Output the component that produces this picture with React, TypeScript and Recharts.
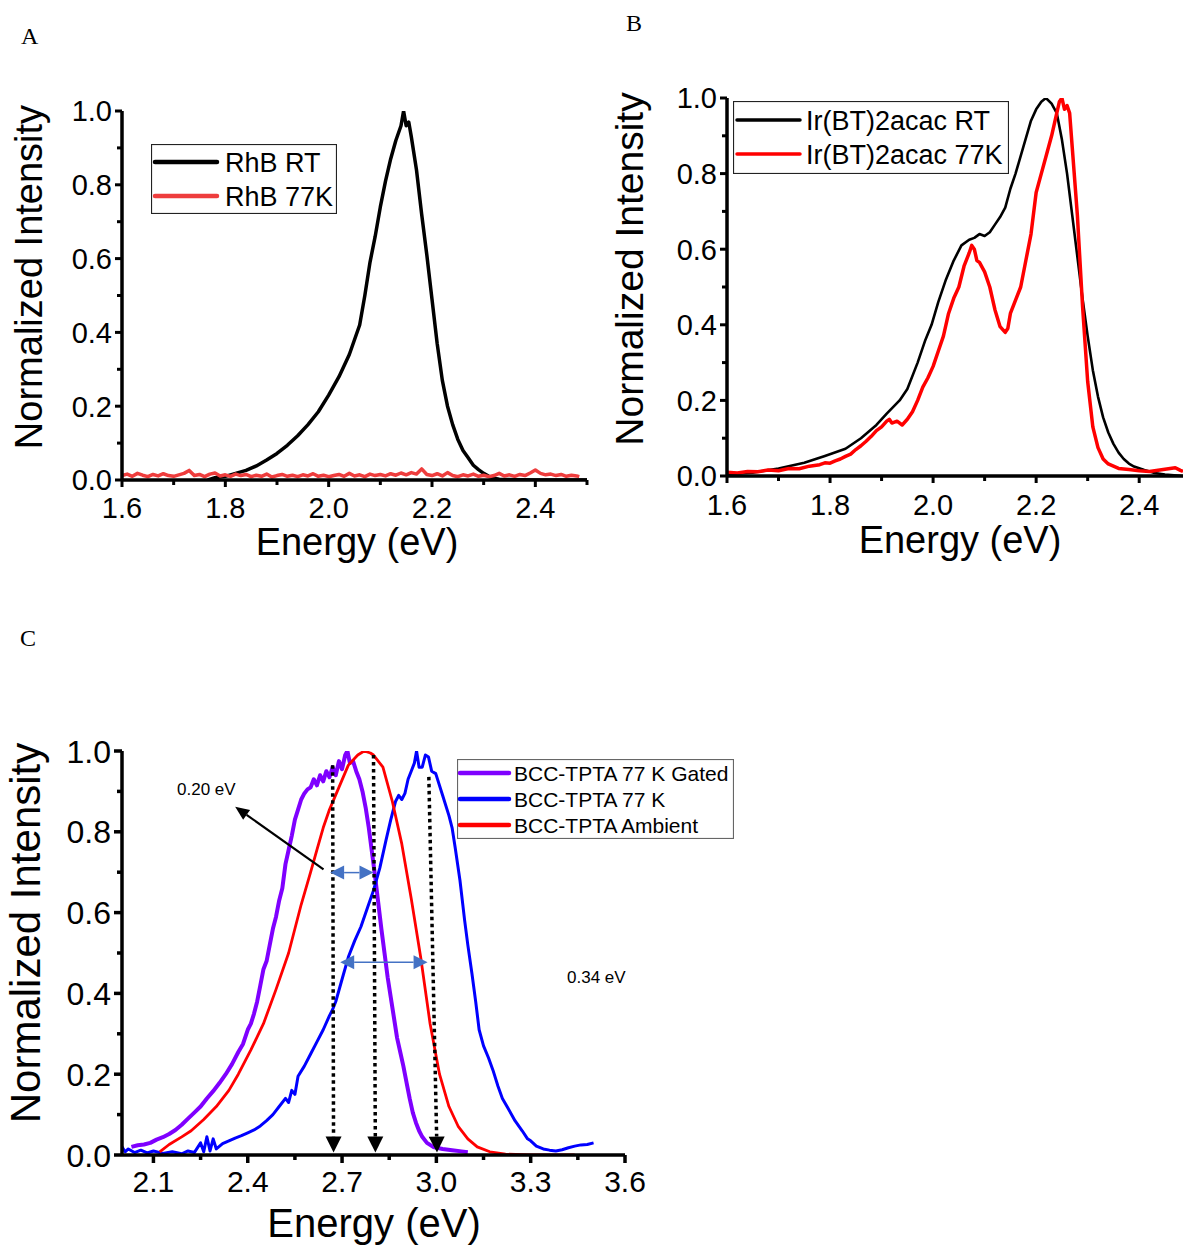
import React from 'react';
import { LineChart, Line, XAxis, YAxis, ReferenceLine, Legend } from 'recharts';

const FONT = '"Liberation Sans", Arial, Helvetica, sans-serif';
const SERIF = '"Liberation Serif", "Times New Roman", serif';

// ---------- Panel A data ----------
const A_X_MAJOR = [1.6, 1.8, 2.0, 2.2, 2.4];
const A_X_MINOR = [1.7, 1.9, 2.1, 2.3, 2.5];
const Y_MAJOR = [0, 0.2, 0.4, 0.6, 0.8, 1.0];
const Y_MINOR = [0.1, 0.3, 0.5, 0.7, 0.9];

const RHB_RT: number[][] = [
  [1.766, 0.0], [1.78, 0.006], [1.8, 0.01], [1.82, 0.018], [1.84, 0.026], [1.86, 0.038], [1.88, 0.054],
  [1.9, 0.072], [1.92, 0.094], [1.94, 0.12], [1.96, 0.15], [1.98, 0.185], [2.0, 0.23], [2.02, 0.28],
  [2.04, 0.34], [2.06, 0.42], [2.07, 0.5], [2.08, 0.59], [2.09, 0.66], [2.1, 0.74], [2.11, 0.81],
  [2.12, 0.87], [2.13, 0.92], [2.14, 0.96], [2.145, 1.0], [2.15, 0.96], [2.155, 0.97], [2.16, 0.93],
  [2.17, 0.84], [2.18, 0.72], [2.19, 0.61], [2.2, 0.49], [2.21, 0.37], [2.22, 0.27], [2.23, 0.2],
  [2.24, 0.15], [2.25, 0.11], [2.26, 0.08], [2.27, 0.06], [2.28, 0.04], [2.29, 0.028], [2.3, 0.018],
  [2.31, 0.01], [2.32, 0.005], [2.33, 0.002], [2.4, 0.0], [2.45, 0.0], [2.5, 0.0],
];

const RHB_77K: number[][] = [
  [1.6, 0.012], [1.61, 0.016], [1.62, 0.01], [1.63, 0.018], [1.64, 0.013], [1.65, 0.009], [1.66, 0.015],
  [1.67, 0.011], [1.68, 0.017], [1.69, 0.012], [1.7, 0.01], [1.71, 0.014], [1.72, 0.018], [1.73, 0.026],
  [1.74, 0.012], [1.75, 0.015], [1.76, 0.009], [1.77, 0.016], [1.78, 0.019], [1.79, 0.011], [1.8, 0.014],
  [1.81, 0.01], [1.82, 0.016], [1.83, 0.012], [1.84, 0.015], [1.85, 0.009], [1.86, 0.013], [1.87, 0.01],
  [1.88, 0.016], [1.89, 0.008], [1.9, 0.012], [1.91, 0.015], [1.92, 0.01], [1.93, 0.013], [1.94, 0.009],
  [1.95, 0.014], [1.96, 0.011], [1.97, 0.017], [1.98, 0.01], [1.99, 0.013], [2.0, 0.009], [2.01, 0.012],
  [2.02, 0.015], [2.03, 0.01], [2.04, 0.018], [2.05, 0.011], [2.06, 0.014], [2.07, 0.009], [2.08, 0.016],
  [2.09, 0.012], [2.1, 0.015], [2.11, 0.011], [2.12, 0.017], [2.13, 0.013], [2.14, 0.019], [2.15, 0.014],
  [2.16, 0.02], [2.17, 0.016], [2.18, 0.03], [2.19, 0.015], [2.2, 0.012], [2.21, 0.017], [2.22, 0.011],
  [2.23, 0.02], [2.24, 0.012], [2.25, 0.009], [2.26, 0.014], [2.27, 0.011], [2.28, 0.016], [2.29, 0.01],
  [2.3, 0.013], [2.31, 0.009], [2.32, 0.012], [2.33, 0.018], [2.34, 0.011], [2.35, 0.014], [2.36, 0.01],
  [2.37, 0.015], [2.38, 0.012], [2.39, 0.019], [2.4, 0.027], [2.41, 0.018], [2.42, 0.014], [2.43, 0.016],
  [2.44, 0.012], [2.45, 0.015], [2.46, 0.01], [2.47, 0.013], [2.48, 0.011], [2.485, 0.009],
];

// ---------- Panel B data ----------
const B_X_MAJOR = [1.6, 1.8, 2.0, 2.2, 2.4];
const B_X_MINOR = [1.7, 1.9, 2.1, 2.3];

const IR_RT: number[][] = [
  [1.6, 0.005], [1.65, 0.009], [1.7, 0.02], [1.75, 0.035], [1.79, 0.053], [1.83, 0.072], [1.86, 0.1],
  [1.89, 0.135], [1.91, 0.165], [1.935, 0.2], [1.95, 0.23], [1.97, 0.3], [1.985, 0.36], [1.997, 0.4],
  [2.01, 0.46], [2.025, 0.52], [2.04, 0.57], [2.055, 0.61], [2.07, 0.625], [2.08, 0.63], [2.09, 0.64],
  [2.1, 0.635], [2.11, 0.645], [2.12, 0.665], [2.13, 0.685], [2.14, 0.71], [2.15, 0.76], [2.16, 0.8],
  [2.175, 0.87], [2.19, 0.94], [2.2, 0.97], [2.21, 0.99], [2.219, 1.0], [2.23, 0.985], [2.24, 0.96],
  [2.25, 0.89], [2.26, 0.8], [2.27, 0.69], [2.28, 0.58], [2.29, 0.47], [2.3, 0.37], [2.31, 0.28],
  [2.32, 0.21], [2.33, 0.155], [2.34, 0.115], [2.35, 0.085], [2.36, 0.062], [2.37, 0.045], [2.38, 0.033],
  [2.39, 0.025], [2.41, 0.016], [2.43, 0.008], [2.45, 0.004], [2.485, 0.0],
];

const IR_77K: number[][] = [
  [1.6, 0.01], [1.62, 0.008], [1.64, 0.012], [1.66, 0.011], [1.68, 0.016], [1.7, 0.014], [1.72, 0.02],
  [1.74, 0.019], [1.76, 0.026], [1.78, 0.03], [1.79, 0.035], [1.8, 0.034], [1.81, 0.04], [1.82, 0.045],
  [1.83, 0.052], [1.84, 0.058], [1.85, 0.07], [1.86, 0.08], [1.87, 0.092], [1.88, 0.105], [1.89, 0.12],
  [1.9, 0.13], [1.91, 0.145], [1.915, 0.15], [1.92, 0.14], [1.93, 0.145], [1.94, 0.135], [1.95, 0.15],
  [1.96, 0.17], [1.97, 0.2], [1.98, 0.235], [1.99, 0.26], [2.0, 0.29], [2.01, 0.33], [2.02, 0.37],
  [2.03, 0.43], [2.04, 0.47], [2.05, 0.5], [2.06, 0.555], [2.07, 0.59], [2.075, 0.61], [2.08, 0.6],
  [2.085, 0.57], [2.09, 0.565], [2.1, 0.54], [2.11, 0.5], [2.12, 0.44], [2.13, 0.395], [2.14, 0.38],
  [2.145, 0.39], [2.15, 0.43], [2.16, 0.465], [2.17, 0.5], [2.18, 0.57], [2.19, 0.64], [2.2, 0.75],
  [2.21, 0.8], [2.22, 0.85], [2.23, 0.9], [2.24, 0.96], [2.245, 0.99], [2.25, 1.0], [2.255, 0.97],
  [2.26, 0.98], [2.265, 0.96], [2.27, 0.87], [2.28, 0.69], [2.29, 0.45], [2.3, 0.25], [2.31, 0.13],
  [2.32, 0.075], [2.33, 0.045], [2.34, 0.032], [2.35, 0.026], [2.36, 0.02], [2.38, 0.017], [2.4, 0.014],
  [2.42, 0.012], [2.44, 0.016], [2.46, 0.02], [2.47, 0.022], [2.48, 0.015], [2.485, 0.012],
];

// ---------- Panel C data ----------
const C_X_MAJOR = [2.1, 2.4, 2.7, 3.0, 3.3, 3.6];
const C_X_MINOR = [2.25, 2.55, 2.85, 3.15, 3.45];

const BCC_GATED: number[][] = [
  [2.03, 0.02], [2.05, 0.024], [2.07, 0.026], [2.09, 0.03], [2.11, 0.038], [2.13, 0.044], [2.15, 0.052],
  [2.17, 0.062], [2.19, 0.075], [2.21, 0.09], [2.23, 0.105], [2.25, 0.12], [2.27, 0.14], [2.29, 0.158],
  [2.31, 0.178], [2.33, 0.2], [2.35, 0.225], [2.37, 0.255], [2.385, 0.275], [2.4, 0.31], [2.41, 0.325],
  [2.42, 0.35], [2.43, 0.38], [2.44, 0.42], [2.45, 0.46], [2.46, 0.48], [2.47, 0.52], [2.48, 0.56],
  [2.49, 0.59], [2.5, 0.63], [2.51, 0.66], [2.52, 0.72], [2.53, 0.755], [2.54, 0.79], [2.55, 0.83],
  [2.56, 0.855], [2.57, 0.88], [2.58, 0.895], [2.59, 0.905], [2.6, 0.91], [2.61, 0.93], [2.62, 0.915],
  [2.63, 0.94], [2.64, 0.925], [2.65, 0.95], [2.66, 0.935], [2.67, 0.96], [2.68, 0.94], [2.69, 0.975],
  [2.7, 0.955], [2.71, 0.99], [2.717, 1.0], [2.725, 0.97], [2.735, 0.975], [2.745, 0.95], [2.755, 0.93],
  [2.765, 0.9], [2.775, 0.86], [2.785, 0.81], [2.795, 0.75], [2.805, 0.69], [2.815, 0.625], [2.825, 0.56],
  [2.835, 0.5], [2.845, 0.44], [2.855, 0.39], [2.865, 0.34], [2.875, 0.29], [2.885, 0.255], [2.895, 0.22],
  [2.905, 0.18], [2.915, 0.14], [2.925, 0.105], [2.935, 0.08], [2.945, 0.06], [2.955, 0.045], [2.97, 0.03],
  [2.99, 0.02], [3.02, 0.015], [3.05, 0.012], [3.08, 0.009], [3.1, 0.007],
];

const BCC_77K: number[][] = [
  [2.0, 0.02], [2.01, 0.008], [2.02, 0.015], [2.04, 0.006], [2.06, 0.012], [2.08, 0.005], [2.1, 0.01],
  [2.13, 0.004], [2.16, 0.008], [2.19, 0.003], [2.21, 0.01], [2.23, 0.006], [2.25, 0.03], [2.26, 0.008],
  [2.27, 0.045], [2.28, 0.01], [2.29, 0.04], [2.3, 0.015], [2.32, 0.028], [2.34, 0.035], [2.36, 0.042],
  [2.38, 0.048], [2.4, 0.055], [2.42, 0.062], [2.44, 0.072], [2.46, 0.085], [2.48, 0.1], [2.5, 0.12],
  [2.52, 0.14], [2.53, 0.13], [2.54, 0.16], [2.55, 0.15], [2.56, 0.195], [2.58, 0.22], [2.6, 0.25],
  [2.62, 0.28], [2.64, 0.31], [2.66, 0.345], [2.67, 0.36], [2.68, 0.38], [2.7, 0.435], [2.72, 0.49],
  [2.74, 0.53], [2.76, 0.565], [2.78, 0.61], [2.8, 0.655], [2.82, 0.71], [2.84, 0.78], [2.855, 0.83],
  [2.87, 0.875], [2.88, 0.89], [2.89, 0.88], [2.9, 0.895], [2.91, 0.93], [2.92, 0.95], [2.93, 0.97],
  [2.937, 1.0], [2.945, 0.96], [2.955, 0.96], [2.965, 0.99], [2.975, 0.985], [2.985, 0.95], [2.998, 0.944],
  [3.02, 0.89], [3.04, 0.84], [3.05, 0.81], [3.06, 0.76], [3.075, 0.68], [3.09, 0.58], [3.1, 0.52],
  [3.113, 0.45], [3.125, 0.38], [3.136, 0.31], [3.15, 0.27], [3.166, 0.24], [3.18, 0.21], [3.196, 0.17],
  [3.21, 0.14], [3.227, 0.117], [3.25, 0.085], [3.273, 0.06], [3.29, 0.04], [3.3, 0.035], [3.318, 0.022],
  [3.34, 0.015], [3.36, 0.012], [3.38, 0.01], [3.4, 0.013], [3.42, 0.018], [3.44, 0.022], [3.46, 0.025],
  [3.48, 0.026], [3.5, 0.03],
];

const BCC_AMBIENT: number[][] = [
  [2.12, 0.008], [2.15, 0.026], [2.19, 0.045], [2.22, 0.06], [2.26, 0.088], [2.3, 0.12], [2.34, 0.16],
  [2.37, 0.2], [2.41, 0.26], [2.45, 0.325], [2.49, 0.41], [2.53, 0.5], [2.55, 0.56], [2.57, 0.62],
  [2.6, 0.7], [2.62, 0.755], [2.64, 0.81], [2.66, 0.855], [2.69, 0.91], [2.72, 0.965], [2.75, 0.99],
  [2.77, 1.0], [2.79, 0.995], [2.8, 0.99], [2.83, 0.96], [2.86, 0.875], [2.89, 0.77], [2.92, 0.635],
  [2.95, 0.49], [2.98, 0.325], [3.01, 0.2], [3.04, 0.12], [3.07, 0.07], [3.1, 0.04], [3.13, 0.02],
  [3.17, 0.008], [3.22, 0.002], [3.3, 0.0], [3.44, 0.0],
];

// Annotations in panel C: [E1, I1, E2, I2]
const C_DOTTED: number[][] = [
  [2.67, 0.965, 2.673, 0.006],
  [2.8, 0.99, 2.806, 0.006],
  [2.976, 0.936, 3.002, 0.006],
];
const C_DOUBLE: number[][] = [
  [2.662, 0.699, 2.8, 0.699],
  [2.694, 0.477, 2.972, 0.477],
];
const C_POINTER: number[] = [2.641, 0.707, 2.36, 0.862];

const toPts = (arr: number[][]) => arr.map(([e, v]) => ({ e, v }));

const isIn = (list: number[], v: number) => list.some((m) => Math.abs(m - v) < 1e-6);

function makeXTick(major: number[], fontSize: number, labelDy: number, majLen: number, minLen: number, sw: number) {
  return (props: any) => {
    const { x, y, payload } = props;
    const v = payload.value as number;
    const maj = isIn(major, v);
    return (
      <g>
        <line x1={x} y1={y} x2={x} y2={y + (maj ? majLen : minLen)} stroke="#000" strokeWidth={sw} />
        {maj && (
          <text x={x} y={y + labelDy} textAnchor="middle" fontSize={fontSize} fontFamily={FONT} fill="#000">
            {v.toFixed(1)}
          </text>
        )}
      </g>
    );
  };
}

function makeYTick(major: number[], fontSize: number, labelDx: number, majLen: number, minLen: number, sw: number) {
  return (props: any) => {
    const { x, y, payload } = props;
    const v = payload.value as number;
    const maj = isIn(major, v);
    return (
      <g>
        <line x1={x - (maj ? majLen : minLen)} y1={y} x2={x} y2={y} stroke="#000" strokeWidth={sw} />
        {maj && (
          <text x={x - labelDx} y={y} dy="0.36em" textAnchor="end" fontSize={fontSize} fontFamily={FONT} fill="#000">
            {v.toFixed(1)}
          </text>
        )}
      </g>
    );
  };
}

function arrowHead(x: number, y: number, fromX: number, fromY: number, len: number, half: number) {
  const ang = Math.atan2(y - fromY, x - fromX);
  const bx = x - len * Math.cos(ang);
  const by = y - len * Math.sin(ang);
  const px = -Math.sin(ang) * half;
  const py = Math.cos(ang) * half;
  return { bx, by, pts: `${x},${y} ${bx + px},${by + py} ${bx - px},${by - py}` };
}

const DottedArrow = (props: any) => {
  const { x1, y1, x2, y2 } = props;
  const h = arrowHead(x2, y2, x1, y1, 16, 8);
  return (
    <g>
      <line x1={x1} y1={y1} x2={h.bx} y2={h.by} stroke="#000" strokeWidth={3.5} strokeDasharray="3.5 3.5" />
      <polygon points={h.pts} fill="#000" />
    </g>
  );
};

const BlueDoubleArrow = (props: any) => {
  const { x1, y1, x2, y2 } = props;
  const h1 = arrowHead(x1, y1, x2, y2, 14, 7);
  const h2 = arrowHead(x2, y2, x1, y1, 14, 7);
  return (
    <g>
      <line x1={h1.bx} y1={h1.by} x2={h2.bx} y2={h2.by} stroke="#4472c4" strokeWidth={1.5} />
      <polygon points={h1.pts} fill="#4472c4" />
      <polygon points={h2.pts} fill="#4472c4" />
    </g>
  );
};

const BlackPointer = (props: any) => {
  const { x1, y1, x2, y2 } = props;
  const h = arrowHead(x2, y2, x1, y1, 14, 6);
  return (
    <g>
      <line x1={x1} y1={y1} x2={h.bx} y2={h.by} stroke="#000" strokeWidth={2.2} />
      <polygon points={h.pts} fill="#000" />
    </g>
  );
};

type LegendItem = { name: string; color: string };

function LegendBox({ items, width, height, fontSize, lineX1, lineX2, textX, rowYs, border, lineW }: any) {
  return (
    <svg width={width} height={height} style={{ display: 'block' }}>
      <rect x={0.5} y={0.5} width={width - 1} height={height - 1} fill="#fff" stroke={border} strokeWidth={1.2} />
      {(items as LegendItem[]).map((it, i) => (
        <g key={it.name}>
          <line x1={lineX1} y1={rowYs[i]} x2={lineX2} y2={rowYs[i]} stroke={it.color} strokeWidth={lineW} strokeLinecap="round" />
          <text x={textX} y={rowYs[i]} dy="0.36em" fontSize={fontSize} fontFamily={FONT} fill="#000">
            {it.name}
          </text>
        </g>
      ))}
    </svg>
  );
}

const A_SERIES: LegendItem[] = [
  { name: 'RhB RT', color: '#000000' },
  { name: 'RhB 77K', color: '#ee3d3d' },
];
const B_SERIES: LegendItem[] = [
  { name: 'Ir(BT)2acac RT', color: '#000000' },
  { name: 'Ir(BT)2acac 77K', color: '#ff0000' },
];
const C_SERIES: LegendItem[] = [
  { name: 'BCC-TPTA 77 K Gated', color: '#7f00ff' },
  { name: 'BCC-TPTA 77 K', color: '#0000ff' },
  { name: 'BCC-TPTA Ambient', color: '#ff0000' },
];

const axisLine = { stroke: '#000', strokeWidth: 3.5 };

function PanelA() {
  return (
    <LineChart width={600} height={580} margin={{ top: 111, right: 13, bottom: 20, left: 42 }}>
      <XAxis
        type="number"
        dataKey="e"
        domain={[1.6, 2.5]}
        ticks={[...A_X_MAJOR, ...A_X_MINOR].sort((a, b) => a - b)}
        interval={0}
        height={80}
        tickSize={0}
        tickMargin={0}
        axisLine={axisLine}
        tickLine={false}
        tick={makeXTick(A_X_MAJOR, 29, 38, 7, 5, 3)}
        allowDataOverflow
      />
      <YAxis
        type="number"
        domain={[0, 1]}
        ticks={[...Y_MAJOR, ...Y_MINOR].sort((a, b) => a - b)}
        interval={0}
        width={80}
        tickSize={0}
        tickMargin={0}
        axisLine={axisLine}
        tickLine={false}
        tick={makeYTick(Y_MAJOR, 29, 10, 7, 5, 3)}
        allowDataOverflow
      />
      <Line data={toPts(RHB_RT)} dataKey="v" name="RhB RT" stroke="#000" strokeWidth={3.5} dot={false} activeDot={false} isAnimationActive={false} strokeLinejoin="round" />
      <Line data={toPts(RHB_77K)} dataKey="v" name="RhB 77K" stroke="#ee3d3d" strokeWidth={3.5} dot={false} activeDot={false} isAnimationActive={false} strokeLinejoin="round" />
      <Legend
        layout="horizontal"
        verticalAlign="middle"
        align="center"
        wrapperStyle={{ left: 151, top: 144, width: 186, height: 70 }}
        content={() => (
          <LegendBox items={A_SERIES} width={186} height={70} fontSize={27} lineX1={4} lineX2={66} textX={74} rowYs={[18, 52]} border="#222" lineW={4.5} />
        )}
      />
    </LineChart>
  );
}

function PanelB() {
  return (
    <LineChart width={585} height={580} margin={{ top: 98, right: 2, bottom: 24, left: 47 }}>
      <XAxis
        type="number"
        dataKey="e"
        domain={[1.6, 2.485]}
        ticks={[...B_X_MAJOR, ...B_X_MINOR].sort((a, b) => a - b)}
        interval={0}
        height={80}
        tickSize={0}
        tickMargin={0}
        axisLine={axisLine}
        tickLine={false}
        tick={makeXTick(B_X_MAJOR, 29, 39, 7, 5, 3)}
        allowDataOverflow
      />
      <YAxis
        type="number"
        domain={[0, 1]}
        ticks={[...Y_MAJOR, ...Y_MINOR].sort((a, b) => a - b)}
        interval={0}
        width={80}
        tickSize={0}
        tickMargin={0}
        axisLine={axisLine}
        tickLine={false}
        tick={makeYTick(Y_MAJOR, 29, 10, 7, 5, 3)}
        allowDataOverflow
      />
      <Line data={toPts(IR_RT)} dataKey="v" name="Ir(BT)2acac RT" stroke="#000" strokeWidth={2.6} dot={false} activeDot={false} isAnimationActive={false} strokeLinejoin="round" />
      <Line data={toPts(IR_77K)} dataKey="v" name="Ir(BT)2acac 77K" stroke="#ff0000" strokeWidth={3.5} dot={false} activeDot={false} isAnimationActive={false} strokeLinejoin="round" />
      <Legend
        layout="horizontal"
        verticalAlign="middle"
        align="center"
        wrapperStyle={{ left: 133, top: 101, width: 276, height: 73 }}
        content={() => (
          <LegendBox items={B_SERIES} width={276} height={73} fontSize={27} lineX1={4} lineX2={67} textX={73} rowYs={[19, 53]} border="#222" lineW={3.5} />
        )}
      />
    </LineChart>
  );
}

function PanelC() {
  return (
    <LineChart width={750} height={647} margin={{ top: 151, right: 125, bottom: 12, left: 42 }}>
      <XAxis
        type="number"
        dataKey="e"
        domain={[2.0, 3.6]}
        ticks={[...C_X_MAJOR, ...C_X_MINOR].sort((a, b) => a - b)}
        interval={0}
        height={80}
        tickSize={0}
        tickMargin={0}
        axisLine={axisLine}
        tickLine={false}
        tick={makeXTick(C_X_MAJOR, 30, 37, 8, 5, 3.5)}
        allowDataOverflow
      />
      <YAxis
        type="number"
        domain={[0, 1]}
        ticks={[...Y_MAJOR, ...Y_MINOR].sort((a, b) => a - b)}
        interval={0}
        width={80}
        tickSize={0}
        tickMargin={0}
        axisLine={axisLine}
        tickLine={false}
        tick={makeYTick(Y_MAJOR, 32, 11, 8, 5, 3.5)}
        allowDataOverflow
      />
      <Line data={toPts(BCC_GATED)} dataKey="v" name="BCC-TPTA 77 K Gated" stroke="#7f00ff" strokeWidth={4} dot={false} activeDot={false} isAnimationActive={false} strokeLinejoin="round" />
      <Line data={toPts(BCC_77K)} dataKey="v" name="BCC-TPTA 77 K" stroke="#0000ff" strokeWidth={3} dot={false} activeDot={false} isAnimationActive={false} strokeLinejoin="round" />
      <Line data={toPts(BCC_AMBIENT)} dataKey="v" name="BCC-TPTA Ambient" stroke="#ff0000" strokeWidth={2.8} dot={false} activeDot={false} isAnimationActive={false} strokeLinejoin="round" />
      {C_DOTTED.map((s, i) => (
        <ReferenceLine key={`d${i}`} segment={[{ x: s[0], y: s[1] }, { x: s[2], y: s[3] }]} shape={DottedArrow} ifOverflow="visible" />
      ))}
      {C_DOUBLE.map((s, i) => (
        <ReferenceLine key={`b${i}`} segment={[{ x: s[0], y: s[1] }, { x: s[2], y: s[3] }]} shape={BlueDoubleArrow} ifOverflow="visible" />
      ))}
      <ReferenceLine
        segment={[{ x: C_POINTER[0], y: C_POINTER[1] }, { x: C_POINTER[2], y: C_POINTER[3] }]}
        shape={BlackPointer}
        ifOverflow="visible"
      />
      <Legend
        layout="horizontal"
        verticalAlign="middle"
        align="center"
        wrapperStyle={{ left: 457, top: 159, width: 277, height: 80 }}
        content={() => (
          <LegendBox items={C_SERIES} width={277} height={80} fontSize={21} lineX1={3} lineX2={52} textX={57} rowYs={[14, 40, 66]} border="#666" lineW={4.5} />
        )}
      />
    </LineChart>
  );
}

export default function App() {
  return (
    <div style={{ position: 'absolute', left: 0, top: 0, width: 1185, height: 1247, background: '#fff', overflow: 'hidden' }}>
      <div style={{ position: 'absolute', left: 0, top: 0 }}>
        <PanelA />
      </div>
      <div style={{ position: 'absolute', left: 600, top: 0 }}>
        <PanelB />
      </div>
      <div style={{ position: 'absolute', left: 0, top: 600 }}>
        <PanelC />
      </div>
      <svg width={1185} height={1247} style={{ position: 'absolute', left: 0, top: 0, pointerEvents: 'none' }}>
        <text x={21} y={44} fontSize={24} fontFamily={SERIF} fill="#000">A</text>
        <text x={626} y={31} fontSize={24} fontFamily={SERIF} fill="#000">B</text>
        <text x={20} y={646} fontSize={24} fontFamily={SERIF} fill="#000">C</text>

        <text x={42} y={277} fontSize={38} fontFamily={FONT} textAnchor="middle" transform="rotate(-90 42 277)">Normalized Intensity</text>
        <text x={357} y={555} fontSize={38} fontFamily={FONT} textAnchor="middle">Energy (eV)</text>

        <text x={643} y={269} fontSize={39} fontFamily={FONT} textAnchor="middle" transform="rotate(-90 643 269)">Normalized Intensity</text>
        <text x={960} y={553} fontSize={38} fontFamily={FONT} textAnchor="middle">Energy (eV)</text>

        <text x={40} y={933} fontSize={42} fontFamily={FONT} textAnchor="middle" transform="rotate(-90 40 933)">Normalized Intensity</text>
        <text x={374} y={1237} fontSize={40} fontFamily={FONT} textAnchor="middle">Energy (eV)</text>

        <text x={177} y={795} fontSize={17} fontFamily={FONT}>0.20 eV</text>
        <text x={567} y={983} fontSize={17} fontFamily={FONT}>0.34 eV</text>
      </svg>
    </div>
  );
}
